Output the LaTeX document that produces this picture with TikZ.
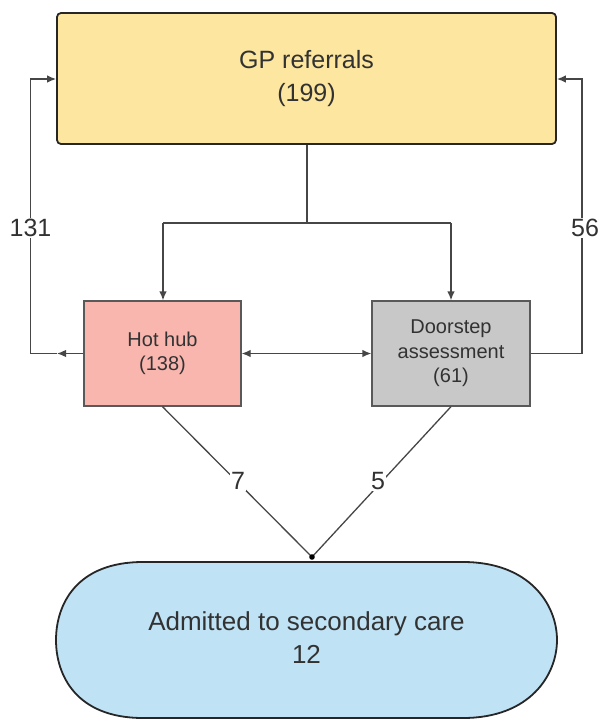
\documentclass[tikz,border=0pt]{standalone}
\usepackage{fontspec}
\setmainfont{Liberation Sans}
\usetikzlibrary{arrows.meta,calc}
\definecolor{gpfill}{RGB}{252,230,160}
\definecolor{hubfill}{RGB}{248,182,175}
\definecolor{doorfill}{RGB}{200,200,200}
\definecolor{admfill}{RGB}{192,226,245}
\definecolor{txt}{RGB}{50,50,50}
\definecolor{ln}{RGB}{70,70,70}
\tikzset{
  x=1pt, y=-1pt,
  gpbox/.style={draw=black!85, line width=1.8pt, fill=gpfill, rounded corners=4pt, inner sep=0pt, text=txt,
    font=\fontsize{25}{33}\selectfont, align=center},
  stepbox/.style={draw=black!65, line width=1.3pt, inner sep=0pt, text=txt,
    font=\fontsize{20}{24.5}\selectfont, align=center},
  conn/.style={draw=ln, line width=1.3pt},
  tip/.style={-{Latex[length=9pt,width=7.5pt]}},
  lab/.style={fill=white, inner sep=1.5pt, text=txt, font=\fontsize{25}{25}\selectfont},
}
\begin{document}
\begin{tikzpicture}
\useasboundingbox (0,0) rectangle (598,720);
% GP referrals
\node[gpbox, minimum width=499pt, minimum height=131pt] (gp) at (306.5,78.5) {GP referrals\\(199)};
% Hot hub
\node[stepbox, fill=hubfill, minimum width=157pt, minimum height=105pt] (hub) at (162.5,353.5) {Hot hub\\(138)};
% Doorstep
\node[stepbox, fill=doorfill, minimum width=158pt, minimum height=105pt] (door) at (451,353.5) {Doorstep\\assessment\\(61)};
% Admitted stadium
\path[draw=black!85, line width=1.8pt, fill=admfill]
  (143,562) -- (463,562)
  .. controls (530,562) and (557,605) .. (557,640)
  .. controls (557,675) and (530,718) .. (463,718)
  -- (143,718)
  .. controls (76,718) and (56,675) .. (56,640)
  .. controls (56,605) and (76,562) .. (143,562) -- cycle;
\node[text=txt, font=\fontsize{26}{33}\selectfont, align=center] (adm) at (306.5,638) {Admitted to secondary care\\12};
% junction coordinates
\coordinate (split) at (307,223);
\coordinate (jl) at (163,223);
\coordinate (jr) at (451,223);
\coordinate (meet) at (312,557);
\coordinate (ll) at (30.5,353.5);
\coordinate (lu) at (30.5,79);
\coordinate (rl) at (582,353.5);
\coordinate (ru) at (582,79);
% GP to boxes
\draw[conn] (gp.south -| split) -- (split);
\draw[conn] (jl) -- (jr);
\draw[conn, tip] (jl) -- (hub.north -| jl);
\draw[conn, tip] (jr) -- (door.north -| jr);
% hub <-> doorstep
\draw[conn, {Latex[length=9pt,width=7.5pt]}-{Latex[length=9pt,width=7.5pt]}] (hub.east) -- (door.west);
% feedback left
\draw[conn, tip] (hub.west) -- (57,353.5);
\draw[conn, tip] (57,353.5) -- (ll) -- (lu) -- (gp.west |- lu);
\node[lab] (l131) at (30.5,228) {131};
% feedback right
\draw[conn, tip] (door.east) -- (rl) -- (ru) -- (gp.east |- ru);
\node[lab, anchor=center] (l56) at (585,228) {56};
% to admitted
\draw[conn] (hub.south) -- (meet);
\draw[conn] (door.south) -- (meet);
\fill[black] (meet) circle (2.8pt);
\node[lab] (l7) at (238,481) {7};
\node[lab] (l5) at (378,481) {5};
\end{tikzpicture}
\end{document}
